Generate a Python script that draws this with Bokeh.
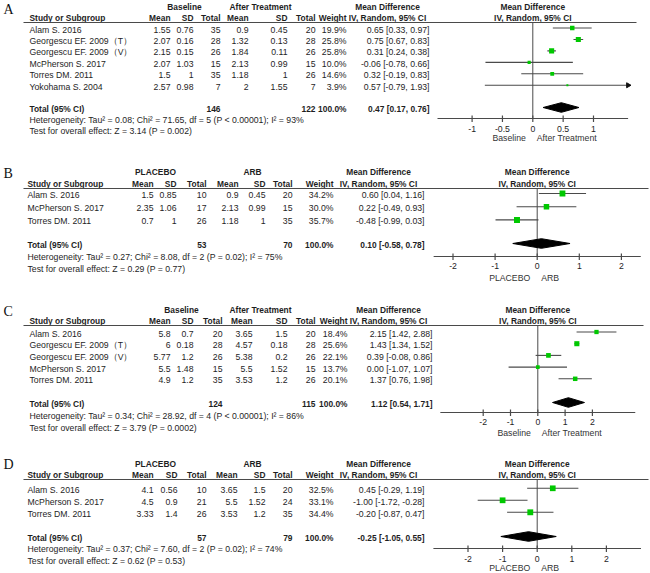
import math
from bokeh.plotting import figure
from bokeh.models import Range1d, ColumnDataSource
from bokeh.core.properties import value
from bokeh.embed import file_html
from bokeh.resources import INLINE

# ---------------- data ----------------
# Panel A
A_study = ["Alam S. 2016", "Georgescu EF. 2009（T）", "Georgescu EF. 2009（V）",
           "McPherson S. 2017", "Torres DM. 2011", "Yokohama S. 2004"]
A_m1 = [1.55, 2.07, 2.15, 2.07, 1.5, 2.57]
A_sd1 = [0.76, 0.16, 0.15, 1.03, 1, 0.98]
A_n1 = [35, 28, 26, 15, 35, 7]
A_m2 = [0.9, 1.32, 1.84, 2.13, 1.18, 2]
A_sd2 = [0.45, 0.13, 0.11, 0.99, 1, 1.55]
A_n2 = [20, 28, 26, 15, 26, 7]
A_w = [19.9, 25.8, 25.8, 10.0, 14.6, 3.9]
A_md = [0.65, 0.75, 0.31, -0.06, 0.32, 0.57]
A_lo = [0.33, 0.67, 0.24, -0.78, -0.19, -0.79]
A_hi = [0.97, 0.83, 0.38, 0.66, 0.83, 1.93]
A_tot = [146, 122, 0.47, 0.17, 0.76]
A_het = "Heterogeneity: Tau² = 0.08; Chi² = 71.65, df = 5 (P < 0.00001); I² = 93%"
A_test = "Test for overall effect: Z = 3.14 (P = 0.002)"
A_groups = ["Baseline", "After Treatment"]
A_ticks = [-1, -0.5, 0, 0.5, 1]
A_ticklabels = ["-1", "-0.5", "0", "0.5", "1"]

# Panel B
B_study = ["Alam S. 2016", "McPherson S. 2017", "Torres DM. 2011"]
B_m1 = [1.5, 2.35, 0.7]
B_sd1 = [0.85, 1.06, 1]
B_n1 = [10, 17, 26]
B_m2 = [0.9, 2.13, 1.18]
B_sd2 = [0.45, 0.99, 1]
B_n2 = [20, 15, 35]
B_w = [34.2, 30.0, 35.7]
B_md = [0.60, 0.22, -0.48]
B_lo = [0.04, -0.49, -0.99]
B_hi = [1.16, 0.93, 0.03]
B_tot = [53, 70, 0.10, -0.58, 0.78]
B_het = "Heterogeneity: Tau² = 0.27; Chi² = 8.08, df = 2 (P = 0.02); I² = 75%"
B_test = "Test for overall effect: Z = 0.29 (P = 0.77)"
B_groups = ["PLACEBO", "ARB"]
B_ticks = [-2, -1, 0, 1, 2]
B_ticklabels = ["-2", "-1", "0", "1", "2"]

# Panel C
C_study = ["Alam S. 2016", "Georgescu EF. 2009（T）", "Georgescu EF. 2009（V）",
           "McPherson S. 2017", "Torres DM. 2011"]
C_m1 = [5.8, 6, 5.77, 5.5, 4.9]
C_sd1 = [0.7, 0.18, 1.2, 1.48, 1.2]
C_n1 = [20, 28, 26, 15, 35]
C_m2 = [3.65, 4.57, 5.38, 5.5, 3.53]
C_sd2 = [1.5, 0.18, 0.2, 1.52, 1.2]
C_n2 = [20, 28, 26, 15, 26]
C_w = [18.4, 25.6, 22.1, 13.7, 20.1]
C_md = [2.15, 1.43, 0.39, 0.00, 1.37]
C_lo = [1.42, 1.34, -0.08, -1.07, 0.76]
C_hi = [2.88, 1.52, 0.86, 1.07, 1.98]
C_tot = [124, 115, 1.12, 0.54, 1.71]
C_het = "Heterogeneity: Tau² = 0.34; Chi² = 28.92, df = 4 (P < 0.00001); I² = 86%"
C_test = "Test for overall effect: Z = 3.79 (P = 0.0002)"
C_groups = ["Baseline", "After Treatment"]
C_ticks = [-2, -1, 0, 1, 2]
C_ticklabels = ["-2", "-1", "0", "1", "2"]

# Panel D
D_study = ["Alam S. 2016", "McPherson S. 2017", "Torres DM. 2011"]
D_m1 = [4.1, 4.5, 3.33]
D_sd1 = [0.56, 0.9, 1.4]
D_n1 = [10, 21, 26]
D_m2 = [3.65, 5.5, 3.53]
D_sd2 = [1.5, 1.52, 1.2]
D_n2 = [20, 24, 35]
D_w = [32.5, 33.1, 34.4]
D_md = [0.45, -1.00, -0.20]
D_lo = [-0.29, -1.72, -0.87]
D_hi = [1.19, -0.28, 0.47]
D_tot = [57, 79, -0.25, -1.05, 0.55]
D_het = "Heterogeneity: Tau² = 0.37; Chi² = 7.60, df = 2 (P = 0.02); I² = 74%"
D_test = "Test for overall effect: Z = 0.62 (P = 0.53)"
D_groups = ["PLACEBO", "ARB"]
D_ticks = [-2, -1, 0, 1, 2]
D_ticklabels = ["-2", "-1", "0", "1", "2"]

# ---------------- layout (pixel units) ----------------
W, H = 650, 573
FONT = value("Liberation Sans")
SERIF = value("Liberation Serif")
TXT = "#1e1e1e"
GRAY = "#4a4a4a"
GREEN = "#00c800"
FS = "8.7px"
FSB = "8.4px"

panels = [
    dict(name="A", study=A_study, m1=A_m1, sd1=A_sd1, n1=A_n1, m2=A_m2, sd2=A_sd2, n2=A_n2,
         w=A_w, md=A_md, lo=A_lo, hi=A_hi, tot=A_tot, het=A_het, test=A_test, groups=A_groups,
         ticks=A_ticks, ticklabels=A_ticklabels,
         letter_y=9, grp_y=6, hdr_y=17, line_y=22, row0=29, dy=11.45, tot_y=108, het_y=119,
         test_y=130, axis_y=118, tick_y=128, fav_y=137, sx=29,
         cols=[170, 193, 220, 248, 287, 315, 346], md_x=429, md_hdr_x=387, grp_x=[184, 260],
         zero=532.3, unit=60.7, lim=1.57, line_end=636),
    dict(name="B", study=B_study, m1=B_m1, sd1=B_sd1, n1=B_n1, m2=B_m2, sd2=B_sd2, n2=B_n2,
         w=B_w, md=B_md, lo=B_lo, hi=B_hi, tot=B_tot, het=B_het, test=B_test, groups=B_groups,
         ticks=B_ticks, ticklabels=B_ticklabels,
         letter_y=173, grp_y=171, hdr_y=183, line_y=188, row0=194.5, dy=13.2, tot_y=244, het_y=256.5,
         test_y=268, axis_y=256, tick_y=265.5, fav_y=277, sx=27,
         cols=[153, 176, 206, 238, 265, 292, 333], md_x=424, md_hdr_x=378, grp_x=[155, 252],
         zero=536.7, unit=42.1, lim=2.46, line_end=648),
    dict(name="C", study=C_study, m1=C_m1, sd1=C_sd1, n1=C_n1, m2=C_m2, sd2=C_sd2, n2=C_n2,
         w=C_w, md=C_md, lo=C_lo, hi=C_hi, tot=C_tot, het=C_het, test=C_test, groups=C_groups,
         ticks=C_ticks, ticklabels=C_ticklabels,
         letter_y=311, grp_y=309, hdr_y=320, line_y=325, row0=333, dy=11.7, tot_y=403, het_y=415,
         test_y=427, axis_y=412, tick_y=421, fav_y=432, sx=29,
         cols=[170, 193, 222, 252, 287, 315, 347], md_x=432, md_hdr_x=388, grp_x=[181, 260],
         zero=537.3, unit=27.3, lim=3.57, line_end=643),
    dict(name="D", study=D_study, m1=D_m1, sd1=D_sd1, n1=D_n1, m2=D_m2, sd2=D_sd2, n2=D_n2,
         w=D_w, md=D_md, lo=D_lo, hi=D_hi, tot=D_tot, het=D_het, test=D_test, groups=D_groups,
         ticks=D_ticks, ticklabels=D_ticklabels,
         letter_y=464, grp_y=463, hdr_y=474, line_y=479, row0=489.3, dy=12, tot_y=537, het_y=548,
         test_y=560, axis_y=548, tick_y=558, fav_y=567, sx=27,
         cols=[153, 177, 206, 237, 265, 292, 333], md_x=424, md_hdr_x=378, grp_x=[155, 252],
         zero=536.7, unit=34.6, lim=3.0, line_end=648),
]

p = figure(width=W, height=H, x_range=Range1d(0, W), y_range=Range1d(H, 0),
           output_backend="svg", toolbar_location=None, min_border=0,
           x_axis_location=None, y_axis_location=None)
p.grid.visible = False
p.outline_line_color = None
p.background_fill_color = "white"

for pn in panels:
    p.extra_x_ranges[pn["name"]] = Range1d(-pn["zero"] / pn["unit"], (W - pn["zero"]) / pn["unit"])


def txt(xs, ys, texts, align="left", bold=False, size=None, rng=None, xoff=0, font=FONT, color=TXT):
    if size is None:
        size = FSB if bold else FS
    src = ColumnDataSource(dict(x=list(xs), y=list(ys), t=list(texts)))
    kw = {"x_range_name": rng} if rng else {}
    p.text(x="x", y="y", text="t", source=src, text_align=align, text_baseline="middle",
           text_font=font, text_font_size=size, text_font_style="bold" if bold else "normal",
           text_color=color, x_offset=xoff, **kw)


def g(v):
    return ("%g" % v)


for pn in panels:
    r = pn["name"]
    n = len(pn["study"])
    ys = [pn["row0"] + i * pn["dy"] for i in range(n)]
    c = pn["cols"]

    # panel letter
    txt([3], [pn["letter_y"]], [r], size="14px", font=SERIF, color="#111111")
    # group headers
    txt(pn["grp_x"], [pn["grp_y"]] * 2, pn["groups"], align="center", bold=True)
    txt([pn["md_hdr_x"]], [pn["grp_y"]], ["Mean Difference"], align="center", bold=True)
    txt([0], [pn["grp_y"]], ["Mean Difference"], align="center", bold=True, rng=r)
    # column headers
    txt([pn["sx"]], [pn["hdr_y"]], ["Study or Subgroup"], bold=True)
    txt(c, [pn["hdr_y"]] * 7, ["Mean", "SD", "Total", "Mean", "SD", "Total", "Weight"],
        align="right", bold=True)
    txt([pn["md_hdr_x"]], [pn["hdr_y"]], ["IV, Random, 95% CI"], align="center", bold=True)
    txt([0], [pn["hdr_y"]], ["IV, Random, 95% CI"], align="center", bold=True, rng=r)
    # header rule
    p.segment(x0=[23], x1=[pn["line_end"]], y0=[pn["line_y"]], y1=[pn["line_y"]],
              line_color=GRAY, line_width=1.2)

    # study rows
    txt([pn["sx"]] * n, ys, pn["study"])
    for col, key in zip(c[:6], ["m1", "sd1", "n1", "m2", "sd2", "n2"]):
        txt([col] * n, ys, [g(v) for v in pn[key]], align="right")
    txt([c[6]] * n, ys, ["%.1f%%" % v for v in pn["w"]], align="right")
    txt([pn["md_x"]] * n, ys,
        ["%.2f [%.2f, %.2f]" % (m, l, h) for m, l, h in zip(pn["md"], pn["lo"], pn["hi"])],
        align="right")

    # totals
    t = pn["tot"]
    txt([pn["sx"]], [pn["tot_y"]], ["Total (95% CI)"], bold=True)
    txt([c[2], c[5], c[6]], [pn["tot_y"]] * 3, [str(t[0]), str(t[1]), "100.0%"],
        align="right", bold=True)
    txt([pn["md_x"]], [pn["tot_y"]], ["%.2f [%.2f, %.2f]" % (t[2], t[3], t[4])],
        align="right", bold=True)
    txt([pn["sx"]], [pn["het_y"]], [pn["het"]])
    txt([pn["sx"]], [pn["test_y"]], [pn["test"]])

    # forest: zero line
    p.segment(x0=[0], x1=[0], y0=[pn["line_y"]], y1=[pn["axis_y"]], line_color=GRAY,
              line_width=1, x_range_name=r)
    # CIs
    lim = pn["lim"]
    lo_c = [max(v, -lim) for v in pn["lo"]]
    hi_c = [min(v, lim) for v in pn["hi"]]
    sq_y = [y - 1.5 for y in ys]
    p.segment(x0=lo_c, x1=hi_c, y0=sq_y, y1=sq_y, line_color=GRAY, line_width=1.1,
              x_range_name=r)
    arr_r = [(lim, y) for v, y in zip(pn["hi"], sq_y) if v > lim]
    arr_l = [(-lim, y) for v, y in zip(pn["lo"], sq_y) if v < -lim]
    if arr_r:
        p.scatter(x=[a[0] for a in arr_r], y=[a[1] for a in arr_r], marker="triangle",
                  angle=-math.pi / 2, size=5, color="#111111", x_range_name=r)
    if arr_l:
        p.scatter(x=[a[0] for a in arr_l], y=[a[1] for a in arr_l], marker="triangle",
                  angle=math.pi / 2, size=5, color="#111111", x_range_name=r)
    p.scatter(x=pn["md"], y=sq_y, marker="square", size=[math.sqrt(v) * 1.0 for v in pn["w"]],
              fill_color=GREEN, line_color=None, x_range_name=r)
    # diamond
    ty = pn["tot_y"] - 1
    p.patch(x=[t[3], t[2], t[4], t[2]], y=[ty, ty - 4.8, ty, ty + 4.8], color="black",
            x_range_name=r)
    # axis
    p.segment(x0=[-lim], x1=[lim], y0=[pn["axis_y"]], y1=[pn["axis_y"]], line_color=GRAY,
              line_width=1.2, x_range_name=r)
    nt = len(pn["ticks"])
    p.segment(x0=pn["ticks"], x1=pn["ticks"], y0=[pn["axis_y"] - 3] * nt,
              y1=[pn["axis_y"] + 3.5] * nt, line_color=GRAY, line_width=1.2, x_range_name=r)
    txt(pn["ticks"], [pn["tick_y"]] * nt, pn["ticklabels"], align="center", rng=r)
    # favours labels
    txt([0], [pn["fav_y"]], [pn["groups"][0]], align="right", rng=r, xoff=-7, size="8.7px",
        color="#333333")
    txt([0], [pn["fav_y"]], [pn["groups"][1]], align="left", rng=r, xoff=4, size="8.7px",
        color="#333333")

open("out.html", "w").write(file_html(p, INLINE))
